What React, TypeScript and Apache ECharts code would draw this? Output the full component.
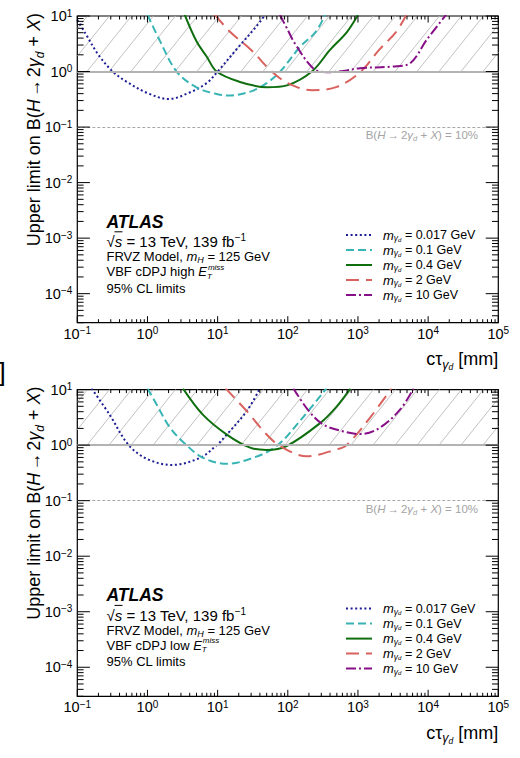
import React, { useEffect, useRef } from 'react';
import * as echarts from 'echarts';

// ---------- axis ranges & ticks ----------
const X_MIN = 0.1;
const X_MAX = 1e5;
const Y_MIN = 3e-5;
const Y_MAX = 10;
const HATCH_LOW = 1;
const REF_LINE = 0.1;
const xDecades = [-1, 0, 1, 2, 3, 4, 5];
const yDecades = [-5, -4, -3, -2, -1, 0, 1];

// ---------- legend / series definitions ----------
const massLabels = ['0.017 GeV', '0.1 GeV', '0.4 GeV', '2 GeV', '10 GeV'];
const seriesColors = ['#1c1c96', '#38b4b4', '#0f6f0f', '#d9625f', '#870f87'];
const seriesDash: any[] = [[2, 2.6], [8, 4], 'solid', [13, 7], [10, 3, 2, 3]];

// ---------- VBF cDPJ high E_T^miss : [c tau (mm), upper limit] ----------
const high0017 = [[0.1, 8.5], [0.13, 4.9], [0.2, 2.0], [0.32, 1.0], [0.5, 0.66], [1, 0.41], [2, 0.32], [4, 0.42], [7, 0.62], [10, 1.0], [20, 2.8], [35, 6.3], [50, 11.5]];
const high01 = [[1, 10.5], [1.5, 3.6], [2.6, 1.0], [5, 0.52], [10, 0.39], [15, 0.37], [30, 0.44], [50, 0.62], [78, 1.0], [150, 2.8], [250, 5.2], [340, 10.5]];
const high04 = [[3.4, 10.5], [5, 3.5], [7, 1.85], [9.7, 1.0], [20, 0.66], [50, 0.52], [100, 0.57], [220, 1.0], [400, 2.45], [700, 5.2], [1000, 10.5]];
const high2 = [[9.2, 10.5], [15, 5.2], [30, 2.45], [59, 1.0], [100, 0.62], [220, 0.46], [500, 0.53], [1100, 1.0], [2000, 2.45], [3500, 5.2], [4900, 10.5]];
const high10 = [[77, 10.5], [100, 5.6], [126, 3.2], [229, 1.15], [355, 0.97], [600, 1.02], [1070, 1.15], [3160, 1.23], [5500, 1.4], [9500, 3.7], [18000, 10.5]];

// ---------- VBF cDPJ low E_T^miss ----------
const low0017 = [[0.16, 10.5], [0.29, 3.5], [0.54, 1.0], [1, 0.56], [2.2, 0.44], [5.6, 0.59], [9.7, 1.0], [13.5, 1.55], [26, 4.1], [40, 10.5]];
const low01 = [[1, 10.5], [1.35, 5.4], [2.1, 2.05], [3.6, 1.0], [6.2, 0.59], [13.5, 0.46], [32, 0.59], [69, 0.96], [148, 2.7], [355, 10.5]];
const low04 = [[3.2, 10.5], [6.2, 3.5], [13.5, 1.55], [29, 0.9], [50, 0.82], [96, 0.96], [290, 2.5], [500, 5.0], [780, 10.5]];
const low2 = [[13, 10.5], [26, 4.1], [50, 1.55], [78, 0.96], [186, 0.63], [500, 0.84], [690, 1.0], [1480, 3.1], [3000, 10.5]];
const low10 = [[120, 10.5], [200, 4.1], [320, 2.35], [600, 1.78], [1070, 1.58], [2040, 2.05], [4000, 4.4], [6200, 10.5]];

const highPanel = [high0017, high01, high04, high2, high10];
const lowPanel = [low0017, low01, low04, low2, low10];
const panelChannels = ['high', 'low'];

// ---------- layout ----------
const FONT = '"Liberation Sans", Arial, Helvetica, sans-serif';
const GRID_LEFT = 77.3;
const GRID_W = 421;
const GRID_H = 306.7;
const PANEL_TOPS = [16, 389.6];

const tok = (size: number, lh: number, pad: number[] = [0, 0, 0, 0], italic = false, color = '#000', extra: any = {}) => ({
  fontSize: size,
  lineHeight: lh,
  padding: pad,
  fontStyle: italic ? 'italic' : 'normal',
  fontFamily: FONT,
  fill: color,
  color,
  ...extra,
});

const powerLabel = (v: number) => {
  const l = Math.log10(v);
  const e = Math.round(l);
  if (Math.abs(l - e) > 1e-6) return '';
  return `{b|10}{s|${e < 0 ? '\u2212' + -e : e}}`;
};
const axisRich = {
  b: tok(14.5, 16),
  s: tok(10, 10, [0, 0, 6, 0]),
};

const seriesName = (i: number) => `m\u03b3d = ${massLabels[i]}`;

const line = (x1: number, y1: number, x2: number, y2: number, stroke = '#000', lineWidth = 1) => ({
  type: 'line',
  shape: { x1, y1, x2, y2 },
  style: { stroke, lineWidth },
  silent: true,
});

const HATCH_STEP = 22;
const HATCH_PHASE = 9.7;
const HATCH_SLANT = 0.8;

const renderHatch = (_p: any, api: any) => {
  const [xl, yt] = api.coord([X_MIN, Y_MAX]);
  const [xr, yb] = api.coord([X_MAX, HATCH_LOW]);
  const h = yb - yt;
  const dx = h * HATCH_SLANT;
  const ch: any[] = [];
  for (let xb = xl + HATCH_PHASE - Math.ceil(dx / HATCH_STEP + 1) * HATCH_STEP; xb <= xr; xb += HATCH_STEP) {
    const t0 = Math.max(0, (xl - xb) / dx);
    const t1 = Math.min(1, (xr - xb) / dx);
    if (t1 <= t0) continue;
    ch.push(line(xb + t0 * dx, yb - t0 * h, xb + t1 * dx, yb - t1 * h, '#c2c2c2', 1));
  }
  return { type: 'group', children: ch };
};

const renderTicks = (_p: any, api: any) => {
  const [xl, yb] = api.coord([X_MIN, Y_MIN]);
  const [xr, yt] = api.coord([X_MAX, Y_MAX]);
  const ch: any[] = [];
  for (const e of xDecades) {
    for (let k = 1; k <= 9; k++) {
      const v = k * Math.pow(10, e);
      if (v < X_MIN * 0.999 || v > X_MAX * 1.001) continue;
      const px = api.coord([v, Y_MIN])[0];
      const len = k === 1 ? 6.5 : 3.5;
      ch.push(line(px, yb, px, yb - len), line(px, yt, px, yt + len));
    }
  }
  for (const e of yDecades) {
    for (let k = 1; k <= 9; k++) {
      const v = k * Math.pow(10, e);
      if (v < Y_MIN * 0.999 || v > Y_MAX * 1.001) continue;
      const py = api.coord([X_MIN, v])[1];
      const len = k === 1 ? 12.6 : 6.3;
      ch.push(line(xl, py, xl + len, py), line(xr, py, xr - len, py));
    }
  }
  return { type: 'group', children: ch };
};

const legendRich = {
  m: tok(13, 15, [0, 0, 0, 6], true),
  g: tok(8.5, 9, [6, 0, 0, 0], true),
  d: tok(6, 6, [9, 0, 0, 0], true),
  t: tok(12.5, 15),
};

function buildOption() {
  const grid: any[] = [];
  const xAxis: any[] = [];
  const yAxis: any[] = [];
  const series: any[] = [];
  const legend: any[] = [];
  const graphic: any[] = [];

  [highPanel, lowPanel].forEach((panel, p) => {
    const top = PANEL_TOPS[p];
    grid.push({ left: GRID_LEFT, top, width: GRID_W, height: GRID_H, show: true, borderColor: '#000', borderWidth: 1.2, backgroundColor: 'transparent' });
    xAxis.push({
      type: 'log', logBase: 10, gridIndex: p, min: X_MIN, max: X_MAX,
      axisLine: { show: false }, axisTick: { show: false }, splitLine: { show: false },
      axisLabel: { margin: 3, formatter: powerLabel, rich: axisRich, color: '#000', showMinLabel: true, showMaxLabel: true, hideOverlap: false },
    });
    yAxis.push({
      type: 'log', logBase: 10, gridIndex: p, min: Y_MIN, max: Y_MAX,
      axisLine: { show: false }, axisTick: { show: false }, splitLine: { show: false },
      axisLabel: { margin: 5, formatter: powerLabel, rich: axisRich, color: '#000', hideOverlap: false },
    });
    series.push({
      type: 'custom', name: 'hatch', xAxisIndex: p, yAxisIndex: p, data: [[1, 1]],
      renderItem: renderHatch, silent: true, z: 1,
    });
    panel.forEach((data, i) => {
      const s: any = {
        type: 'line', name: seriesName(i), xAxisIndex: p, yAxisIndex: p, data,
        symbol: 'none', showSymbol: false, smooth: 0.35, clip: true, z: 3,
        lineStyle: { color: seriesColors[i], width: 2, type: seriesDash[i] },
        itemStyle: { color: seriesColors[i] },
      };
      if (i === 0) {
        s.markLine = {
          silent: true, symbol: ['none', 'none'], label: { show: false },
          data: [
            { yAxis: HATCH_LOW, lineStyle: { color: '#b3b3b3', width: 2, type: 'solid' } },
            { yAxis: REF_LINE, lineStyle: { color: '#a8a8a8', width: 1, type: [3, 2] } },
          ],
        };
      }
      series.push(s);
    });
    series.push({
      type: 'custom', name: 'ticks', xAxisIndex: p, yAxisIndex: p, data: [[1, 1]],
      renderItem: renderTicks, silent: true, z: 6,
    });
    legend.push({
      orient: 'vertical', left: 345, top: top + 219 - 7.5, itemWidth: 26, itemHeight: 10, itemGap: 0, padding: 0,
      selectedMode: false,
      itemStyle: { color: 'rgba(0,0,0,0)', borderWidth: 0, opacity: 0 },
      data: massLabels.map((_, i) => seriesName(i)),
      formatter: (name: string) => `{m|m}{g|\u03b3}{d|d}{t| = ${name.replace(/^.*= /, '')}}`,
      textStyle: { fontFamily: FONT, fontSize: 12.5, color: '#000', rich: legendRich },
    });

    // y title
    graphic.push({
      type: 'text', x: 34, y: top - 3, rotation: Math.PI / 2, silent: true,
      style: {
        text: '{n|Upper limit on B(}{i|H}{a|\u2192}{n|2}{i|\u03b3}{sb|d}{n| + }{i|X}{n|)}',
        align: 'right', verticalAlign: 'middle',
        rich: { n: tok(18, 24), a: tok(18, 24, [0, 2, 0, 2]), i: tok(18, 24, [0, 0, 0, 0], true), sb: tok(12, 12, [12, 0, 0, 0], true) },
      },
    });
    // x title
    graphic.push({
      type: 'text', x: GRID_LEFT + GRID_W, y: top + 343, silent: true,
      style: {
        text: '{n|c\u03c4}{g|\u03b3}{d|d}{n| [mm]}',
        align: 'right', verticalAlign: 'middle',
        rich: { n: tok(18, 24), g: tok(12.5, 13, [11, 0, 0, 0], true), d: tok(8.5, 8, [16, 0, 0, 0], true) },
      },
    });
    // 10% label
    const gc = '#a3a3a3';
    graphic.push({
      type: 'text', x: 478, y: top + 119, silent: true,
      style: {
        text: '{g|B(}{gi|H}{ga|\u2192}{g|2}{gi|\u03b3}{gs|d}{g| + }{gi|X}{g|) = 10%}',
        align: 'right', verticalAlign: 'middle',
        rich: {
          g: tok(11.5, 14, [0, 0, 0, 0], false, gc), ga: tok(11.5, 14, [0, 2, 0, 2], false, gc),
          gi: tok(11.5, 14, [0, 0, 0, 0], true, gc), gs: tok(7.5, 7, [7, 0, 0, 0], true, gc),
        },
      },
    });
    // ATLAS block
    const ax = 106.5;
    graphic.push({
      type: 'text', x: ax, y: top + 205.7, silent: true,
      style: { text: 'ATLAS', fontFamily: FONT, fontSize: 17.5, fontWeight: 'bold', fontStyle: 'italic', fill: '#000', align: 'left', verticalAlign: 'middle' },
    });
    graphic.push({
      type: 'text', x: ax, y: top + 225.7, silent: true,
      style: {
        text: '{n|\u221a}{i|s}{n| = 13 TeV, 139 fb}{sp|\u22121}',
        align: 'left', verticalAlign: 'middle',
        rich: { n: tok(15, 18), i: tok(15, 18, [0, 0, 0, 0], true), sp: tok(10, 10, [0, 0, 8, 0]) },
      },
    });
    // overline of the square root
    graphic.push({
      type: 'line', silent: true,
      shape: { x1: ax + 8, y1: top + 215.8, x2: ax + 16, y2: top + 215.8 },
      style: { stroke: '#000', lineWidth: 1 },
    });
    graphic.push({
      type: 'text', x: ax, y: top + 240.7, silent: true,
      style: {
        text: '{n|FRVZ Model, }{i|m}{sb|H}{n| = 125 GeV}',
        align: 'left', verticalAlign: 'middle',
        rich: { n: tok(13, 16), i: tok(13, 16, [0, 0, 0, 0], true), sb: tok(9, 9, [7, 0, 0, 0], true) },
      },
    });
    graphic.push({
      type: 'text', x: ax, y: top + 255.7, silent: true,
      style: {
        text: `{n|VBF cDPJ ${panelChannels[p]} }{i|E}{sb|T}{sp|miss}`,
        align: 'left', verticalAlign: 'middle',
        rich: {
          n: tok(13, 16), i: tok(13, 16, [0, 0, 0, 0], true),
          sb: tok(8, 7, [9, 0, 0, 0], true, '#000', { width: 1 }),
          sp: tok(8, 7, [0, 0, 9, 0], true),
        },
      },
    });
    graphic.push({
      type: 'text', x: ax, y: top + 272, silent: true,
      style: { text: '95% CL limits', fontFamily: FONT, fontSize: 13, fill: '#000', align: 'left', verticalAlign: 'middle' },
    });
  });

  graphic.push({
    type: 'text', x: -1.5, y: 372, silent: true,
    style: { text: ']', fontFamily: FONT, fontSize: 26, fill: '#000', align: 'left', verticalAlign: 'middle' },
  });

  return {
    animation: false,
    backgroundColor: '#fff',
    textStyle: { fontFamily: FONT },
    grid, xAxis, yAxis, series, legend, graphic,
  };
}

export default function App() {
  const ref = useRef<HTMLDivElement>(null);
  useEffect(() => {
    if (!ref.current) return;
    const chart = echarts.init(ref.current, null, { renderer: 'svg' });
    chart.setOption(buildOption() as any);
    return () => chart.dispose();
  }, []);
  return <div ref={ref} style={{ position: 'fixed', left: 0, top: 0, width: 520, height: 758, background: '#fff' }} />;
}
